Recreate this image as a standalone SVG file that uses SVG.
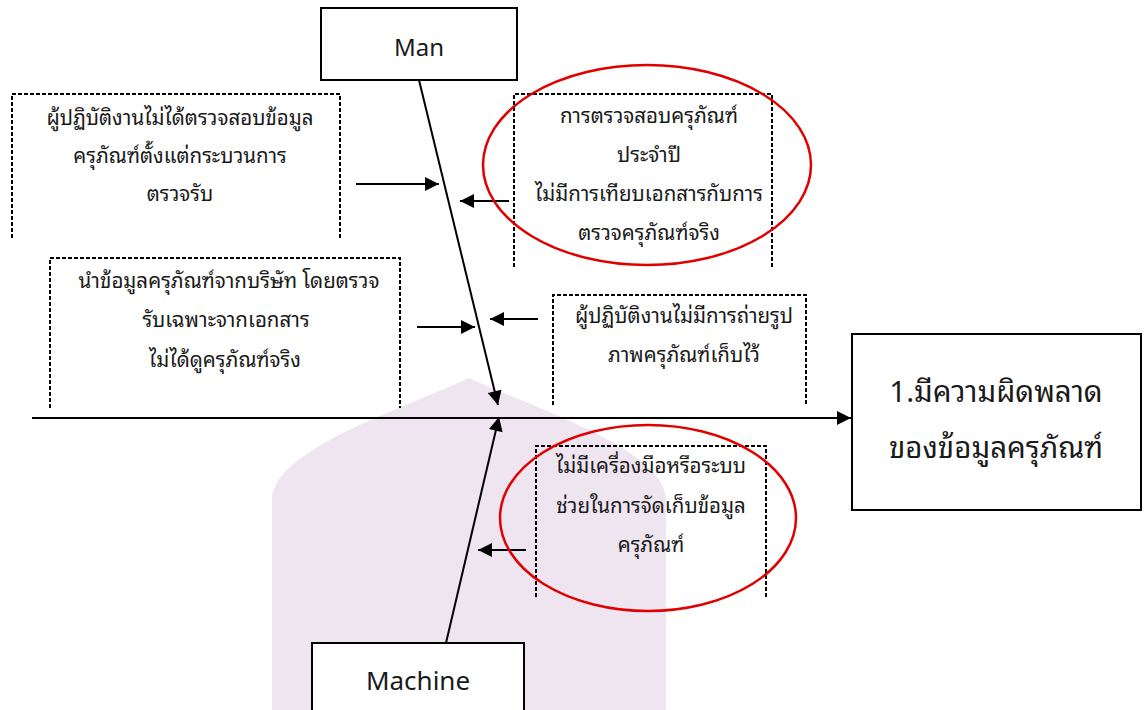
<svg xmlns="http://www.w3.org/2000/svg" width="1145" height="710" viewBox="0 0 1145 710">
<style>
.box{fill:#fff;stroke:#000;stroke-width:2}
.dash{fill:none;stroke:#000;stroke-width:2;stroke-dasharray:4 2}
.ln{stroke:#000;stroke-width:2;fill:none}
.ell{fill:none;stroke:#e00000;stroke-width:2.5}
text{font-family:"Noto Sans Thai Looped","Noto Sans Thai","Noto Sans","DejaVu Sans",sans-serif;fill:#1a1a1a;text-anchor:middle}
.t{font-size:20.5px}
.big{font-size:29.5px}
.cat{font-size:24px}
.cat2{font-size:26px}
</style>
<defs>
<marker id="ah" viewBox="0 0 10 10" refX="10" refY="5" markerWidth="15" markerHeight="14" markerUnits="userSpaceOnUse" orient="auto">
<path d="M0,0 L10,5 L0,10 z" fill="#000"/>
</marker>
</defs>
<rect width="1145" height="710" fill="#fff"/>
<g id="watermark">
<path d="M272,710 L272,500 C272,450 400,410 469,378 C538,410 666,450 666,500 L666,710 Z" fill="#efe5f1"/>
</g>
<g id="connectors">
<line class="ln" x1="32" y1="418" x2="851" y2="418" marker-end="url(#ah)"/>
<line class="ln" x1="419" y1="80" x2="498" y2="405" marker-end="url(#ah)"/>
<line class="ln" x1="446" y1="643" x2="499" y2="417" marker-end="url(#ah)"/>
<line class="ln" x1="356" y1="184" x2="439" y2="184" marker-end="url(#ah)"/>
<line class="ln" x1="509" y1="201" x2="460" y2="201" marker-end="url(#ah)"/>
<line class="ln" x1="417" y1="327" x2="475" y2="327" marker-end="url(#ah)"/>
<line class="ln" x1="538" y1="319" x2="490" y2="319" marker-end="url(#ah)"/>
<line class="ln" x1="526" y1="550" x2="478" y2="550" marker-end="url(#ah)"/>
</g>
<g id="man">
<rect class="box" x="321" y="8" width="196" height="72"/>
<text class="cat" x="419" y="56">Man</text>
</g>
<g id="machine">
<rect class="box" x="312" y="643" width="212" height="80"/>
<text class="cat2" x="418" y="690">Machine</text>
</g>
<g id="effect">
<rect class="box" x="852" y="334" width="289" height="176"/>
<text class="big" x="996" y="402">1.มีความผิดพลาด</text>
<text class="big" x="996" y="458">ของข้อมูลครุภัณฑ์</text>
</g>
<g id="cause1">
<path class="dash" d="M12,238 V94 H340 V238"/>
<text class="t" x="180" y="125">ผู้ปฏิบัติงานไม่ได้ตรวจสอบข้อมูล</text>
<text class="t" x="180" y="163">ครุภัณฑ์ตั้งแต่กระบวนการ</text>
<text class="t" x="180" y="201">ตรวจรับ</text>
</g>
<g id="cause2">
<path class="dash" d="M50,408 V258 H400 V408"/>
<text class="t" x="229" y="288">นำข้อมูลครุภัณฑ์จากบริษัท โดยตรวจ</text>
<text class="t" x="226" y="327">รับเฉพาะจากเอกสาร</text>
<text class="t" x="225" y="367">ไม่ได้ดูครุภัณฑ์จริง</text>
</g>
<g id="cause3">
<path class="dash" d="M514,267 V94 H772 V267"/>
<text class="t" x="649" y="123">การตรวจสอบครุภัณฑ์</text>
<text class="t" x="649" y="162">ประจำปี</text>
<text class="t" x="649" y="201">ไม่มีการเทียบเอกสารกับการ</text>
<text class="t" x="649" y="240">ตรวจครุภัณฑ์จริง</text>
<ellipse class="ell" cx="647" cy="165" rx="164" ry="100"/>
</g>
<g id="cause4">
<path class="dash" d="M553,405 V295 H806 V405"/>
<text class="t" x="684" y="323">ผู้ปฏิบัติงานไม่มีการถ่ายรูป</text>
<text class="t" x="684" y="362">ภาพครุภัณฑ์เก็บไว้</text>
</g>
<g id="cause5">
<path class="dash" d="M536,597 V446 H766 V597"/>
<text class="t" x="651" y="473">ไม่มีเครื่องมือหรือระบบ</text>
<text class="t" x="651" y="513">ช่วยในการจัดเก็บข้อมูล</text>
<text class="t" x="651" y="552">ครุภัณฑ์</text>
<ellipse class="ell" cx="648" cy="518" rx="148" ry="93"/>
</g>
</svg>
